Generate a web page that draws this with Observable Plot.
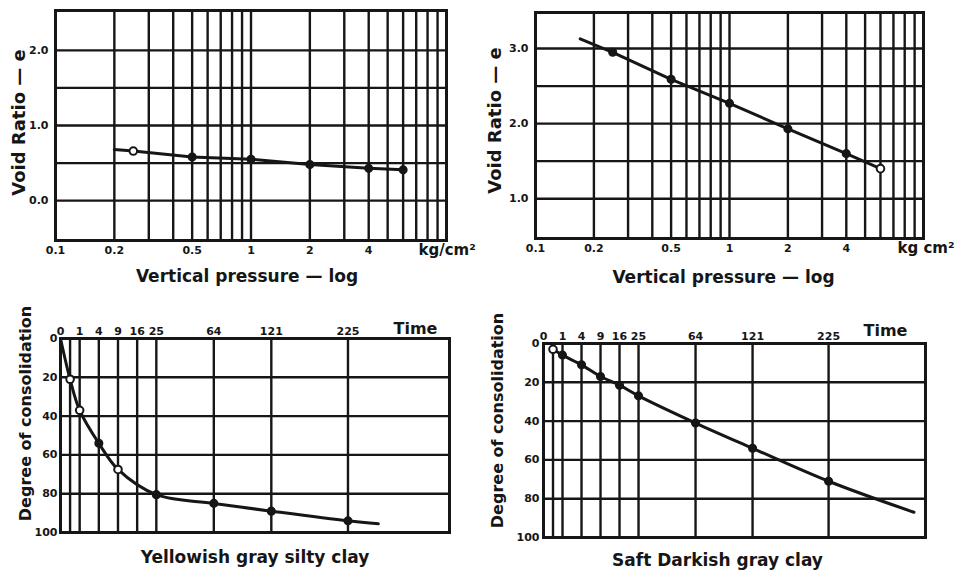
<!DOCTYPE html>
<html><head><meta charset="utf-8">
<script src="https://cdn.jsdelivr.net/npm/d3@7"></script>
<script src="https://cdn.jsdelivr.net/npm/@observablehq/plot@0.6"></script>
<style>
body{margin:0;background:#fff;}
#fig{position:relative;width:964px;height:574px;overflow:hidden;background:#fff;}
#fig > div{position:absolute;}
#fig svg{overflow:visible;}
</style></head><body>
<div id="fig">
  <div id="tl" style="left:0;top:0"></div>
  <div id="tr" style="left:480px;top:0"></div>
  <div id="bl" style="left:0;top:290px"></div>
  <div id="br" style="left:480px;top:290px"></div>
</div>
<script>
// ---- axis ticks & grid ----
const pressureTicks = [0.1, 0.2, 0.5, 1, 2, 4, 6];
const pressureGrid = [0.2, 0.3, 0.4, 0.5, 0.6, 0.7, 0.8, 0.9, 1, 2, 3, 4, 5, 6, 7, 8, 9];
const timeTicks = [0, 1, 4, 9, 16, 25, 64, 121, 225];
const timeGrid = [0.25, 1, 4, 9, 16, 25, 64, 121, 225];
const degreeTicks = [0, 20, 40, 60, 80, 100];
const degreeGrid = [20, 40, 60, 80];
const voidTicksSilty = [0, 1, 2];
const voidGridSilty = [0, 0.5, 1, 1.5, 2];
const voidTicksSoft = [1, 2, 3];
const voidGridSoft = [1, 1.5, 2, 2.5, 3];

// ---- top-left: e-log p, yellowish gray silty clay ----
const siltyPressure = [0.25, 0.5, 1, 2, 4, 6];
const siltyVoid = [0.66, 0.58, 0.55, 0.48, 0.43, 0.41];
const siltyMarker = ["open", "solid", "solid", "solid", "solid", "solid"];
const siltyLineP = [0.2, 0.25, 0.5, 1, 2, 4, 6];
const siltyLineE = [0.68, 0.66, 0.58, 0.55, 0.48, 0.43, 0.41];

// ---- top-right: e-log p, soft darkish gray clay ----
const softPressure = [0.25, 0.5, 1, 2, 4, 6];
const softVoid = [2.95, 2.59, 2.27, 1.93, 1.6, 1.4];
const softMarker = ["solid", "solid", "solid", "solid", "solid", "open"];
const softLineP = [0.17, 0.25, 0.5, 1, 2, 4, 6];
const softLineE = [3.13, 2.95, 2.59, 2.27, 1.93, 1.6, 1.4];

// ---- bottom-left: consolidation vs time, silty clay ----
const siltyTime = [0.25, 1, 4, 9, 25, 64, 121, 225];
const siltyDegree = [21, 37, 54, 67.5, 80.5, 85, 89, 94];
const siltyTimeMarker = ["open", "open", "solid", "open", "solid", "solid", "solid", "solid"];
const siltyCurveT = [0, 0.25, 1, 4, 9, 25, 64, 121, 225, 275];
const siltyCurveD = [0, 21, 37, 54, 67.5, 80.5, 85, 89, 94, 95.5];

// ---- bottom-right: consolidation vs time, soft clay ----
const softTime = [0.25, 1, 4, 9, 16, 25, 64, 121, 225];
const softDegree = [3, 6, 11, 17, 21.5, 27, 41, 54, 71];
const softTimeMarker = ["open", "solid", "solid", "solid", "solid", "solid", "solid", "solid", "solid"];
const softCurveT = [0.25, 1, 4, 9, 16, 25, 64, 121, 225, 380];
const softCurveD = [3, 6, 11, 17, 21.5, 27, 41, 54, 71, 87];

const INK = "#161616";
const FONT = "'DejaVu Sans',sans-serif";
const zipXY = (xs, ys, ms) => xs.map((x, i) => ({x, y: ys[i], m: ms ? ms[i] : null}));

function dots(pts) {
  return [
    Plot.dot(pts.filter(d => d.m === "solid"), {x: "x", y: "y", r: 3.8, fill: INK, stroke: INK, strokeWidth: 1.5}),
    Plot.dot(pts.filter(d => d.m === "open"), {x: "x", y: "y", r: 3.8, fill: "white", stroke: INK, strokeWidth: 2})
  ];
}

function label(str, opts) {
  return Plot.text([str], {text: d => d, textAnchor: "middle", lineAnchor: "middle", fill: INK, ...opts});
}

function voidPanel(o) {
  return Plot.plot({
    width: o.width, height: 290,
    marginLeft: o.ml, marginRight: o.mr, marginTop: o.mt, marginBottom: o.mb,
    style: {fontFamily: FONT, fontWeight: "bold", color: INK, background: "transparent"},
    x: {type: "log", domain: [0.1, 10]},
    y: {domain: o.ydomain},
    marks: [
      Plot.ruleX(pressureGrid, {stroke: INK, strokeWidth: 2.4}),
      Plot.ruleY(o.ygrid, {stroke: INK, strokeWidth: 2.4}),
      Plot.frame({stroke: INK, strokeWidth: 3}),
      Plot.axisX({ticks: pressureTicks, tickFormat: d => d < 1 ? d.toFixed(1) : String(d), tickSize: 0, tickPadding: 6, fontSize: 11, label: null}),
      Plot.axisY({ticks: o.yticks, tickFormat: d => d.toFixed(1), tickSize: 0, tickPadding: 7, fontSize: 11, label: null}),
      Plot.line(zipXY(o.lineX, o.lineY), {x: "x", y: "y", stroke: INK, strokeWidth: 3}),
      ...dots(zipXY(o.px, o.py, o.pm)),
      label("Vertical pressure — log", {frameAnchor: "bottom", dx: o.tdx, dy: o.tdy, fontSize: 17}),
      label(o.unit, {frameAnchor: "bottom-right", textAnchor: "start", dx: o.udx, dy: 10, fontSize: 15}),
      label("Void Ratio — e", {frameAnchor: "left", rotate: -90, dx: o.ydx, dy: o.ydy, fontSize: 18})
    ]
  });
}

function timePanel(o) {
  return Plot.plot({
    width: o.width, height: 284,
    marginLeft: o.ml, marginRight: o.mr, marginTop: o.mt, marginBottom: o.mb,
    style: {fontFamily: FONT, fontWeight: "bold", color: INK, background: "transparent"},
    x: {type: "sqrt", domain: o.xdomain},
    y: {domain: [0, 100], reverse: true},
    marks: [
      Plot.ruleX(timeGrid, {stroke: INK, strokeWidth: 2.4}),
      Plot.ruleY(degreeGrid, {stroke: INK, strokeWidth: 2.4}),
      Plot.frame({stroke: INK, strokeWidth: 3}),
      Plot.axisX({anchor: "top", ticks: timeTicks, tickSize: 0, tickPadding: 4, fontSize: 11, label: null}),
      Plot.axisY({ticks: degreeTicks, tickSize: 0, tickPadding: o.ypad, fontSize: 11, label: null}),
      Plot.line(zipXY(o.lineX, o.lineY), {x: "x", y: "y", stroke: INK, strokeWidth: 3, curve: o.curve}),
      ...dots(zipXY(o.px, o.py, o.pm)),
      label("Time", {frameAnchor: "top-right", dx: o.timeDx, dy: o.timeDy, fontSize: 16}),
      label(o.title, {frameAnchor: "bottom", dx: o.tdx, dy: o.tdy, fontSize: 17}),
      label("Degree of consolidation", {frameAnchor: "left", rotate: -90, dx: o.ydx, dy: o.ydy, fontSize: 16})
    ]
  });
}

document.getElementById("tl").append(voidPanel({
  width: 480, ml: 55, mr: 34, mt: 10, mb: 50,
  ydomain: [-0.53, 2.53], ygrid: voidGridSilty, yticks: voidTicksSilty,
  lineX: siltyLineP, lineY: siltyLineE, px: siltyPressure, py: siltyVoid, pm: siltyMarker,
  unit: "kg/cm²", udx: -28, tdx: -4, tdy: 36, ydx: -36, ydy: -3
}));

document.getElementById("tr").append(voidPanel({
  width: 484, ml: 55, mr: 41, mt: 12, mb: 52,
  ydomain: [0.47, 3.48], ygrid: voidGridSoft, yticks: voidTicksSoft,
  lineX: softLineP, lineY: softLineE, px: softPressure, py: softVoid, pm: softMarker,
  unit: "kg cm²", udx: -26, tdx: -6, tdy: 39, ydx: -40, ydy: -5
}));

document.getElementById("bl").append(timePanel({
  width: 480, ml: 60, mr: 31, mt: 48, mb: 42,
  xdomain: [0, 412], ypad: 3,
  lineX: siltyCurveT, lineY: siltyCurveD, px: siltyTime, py: siltyDegree, pm: siltyTimeMarker,
  curve: "catmull-rom",
  title: "Yellowish gray silty clay", tdx: 0, tdy: 25,
  timeDx: -34, timeDy: -10, ydx: -35, ydy: -22
}));

document.getElementById("br").append(timePanel({
  width: 484, ml: 63, mr: 39, mt: 53, mb: 37,
  xdomain: [0, 404], ypad: 4,
  lineX: softCurveT, lineY: softCurveD, px: softTime, py: softDegree, pm: softTimeMarker,
  curve: "catmull-rom",
  title: "Saft Darkish gray clay", tdx: -17, tdy: 23,
  timeDx: -40, timeDy: -13, ydx: -46, ydy: -20
}));
</script>
</body></html>
